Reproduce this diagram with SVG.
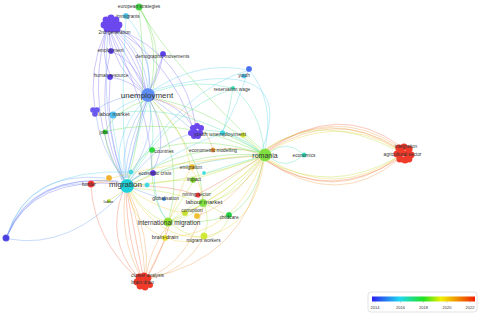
<svg xmlns="http://www.w3.org/2000/svg" width="480" height="314" viewBox="0 0 480 314">
<defs>
<style>
text{font-family:"Liberation Sans",Arial,sans-serif;fill:#333;text-anchor:middle;dominant-baseline:central}
.s{font-size:4.8px}.m{font-size:5.6px}.l{font-size:6.4px}.xl{font-size:8px}
#edges path{fill:none;stroke-width:0.75;stroke-opacity:0.5}
.e14{stroke:#7a6cf5}.e15{stroke:#6c9cf5}.e16{stroke:#5ed2f0}.e17{stroke:#55e0b4}.e18{stroke:#6edc50}.e19{stroke:#bde040}.e20{stroke:#f0d040}.e21{stroke:#f0a050}.e22{stroke:#f07050}
circle{stroke-width:0.4;stroke-opacity:0.5;stroke:#fff}
.cl circle{stroke:none}
</style>
<linearGradient id="leg" x1="0" x2="1" y1="0" y2="0">
<stop offset="0" stop-color="#2a20f0"/><stop offset="0.27" stop-color="#20d8f0"/><stop offset="0.5" stop-color="#20e020"/><stop offset="0.67" stop-color="#f0f000"/><stop offset="0.85" stop-color="#f08000"/><stop offset="1" stop-color="#f02000"/>
</linearGradient>
</defs>
<rect width="480" height="314" fill="#fff"/>
<g id="edges">
<path class="e14" d="M110 28 Q138 45 146 90"/>
<path class="e14" d="M112 28 Q128 60 145 90"/>
<path class="e14" d="M108 30 Q115 70 144 92"/>
<path class="e14" d="M114 27 Q150 40 150 88"/>
<path class="e14" d="M111 28 Q133 52 146 90"/>
<path class="e15" d="M113 28 Q143 48 148 89"/>
<path class="e14" d="M109 29 Q120 65 144 91"/>
<path class="e14" d="M115 28 Q185 55 196 127"/>
<path class="e14" d="M113 28 Q170 60 193 128"/>
<path class="e14" d="M110 30 Q150 110 152 170"/>
<path class="e14" d="M106 30 Q85 110 122 180"/>
<path class="e15" d="M108 30 Q100 120 124 180"/>
<path class="e14" d="M106 30 Q88 70 95 109"/>
<path class="e14" d="M110 32 Q108 42 111 48"/>
<path class="e14" d="M107 30 Q100 55 110 74"/>
<path class="e15" d="M7 236 Q30 172 120 182"/>
<path class="e14" d="M7 236 Q32 176 122 184"/>
<path class="e15" d="M7 236 Q28 170 105 178"/>
<path class="e15" d="M7 236 Q34 180 90 184"/>
<path class="e16" d="M7 236 Q26 168 130 172"/>
<path class="e14" d="M7 236 Q31 174 118 181"/>
<path class="e15" d="M9 239 Q70 250 125 190"/>
<path class="e14" d="M111 51 Q135 60 145 90"/>
<path class="e14" d="M110 53 Q95 120 123 180"/>
<path class="e14" d="M110 77 Q130 80 143 93"/>
<path class="e14" d="M110 79 Q105 130 124 180"/>
<path class="e14" d="M163 54 Q160 75 150 89"/>
<path class="e14" d="M163 56 Q140 110 127 178"/>
<path class="e16" d="M126 16 Q150 40 149 88"/>
<path class="e16" d="M126 18 Q120 100 126 178"/>
<path class="e18" d="M139 7 Q160 40 151 88"/>
<path class="e18" d="M139 7 Q165 45 153 89"/>
<path class="e18" d="M139 8 Q150 110 128 178"/>
<path class="e18" d="M139 8 Q175 70 262 150"/>
<path class="e16" d="M153 90 Q300 50 262 150"/>
<path class="e16" d="M153 90 Q200 60 248 70"/>
<path class="e17" d="M153 92 Q195 78 232 88"/>
<path class="e16" d="M248 70 Q240 100 222 132"/>
<path class="e17" d="M233 88 Q230 110 223 132"/>
<path class="e17" d="M233 88 Q260 110 264 150"/>
<path class="e17" d="M232 89 Q170 110 130 180"/>
<path class="e16" d="M249 70 Q275 100 265 150"/>
<path class="e16" d="M249 70 Q180 90 128 180"/>
<path class="e15" d="M148 95 Q115 95 96 110"/>
<path class="e16" d="M148 95 Q120 105 112 114"/>
<path class="e15" d="M146 101 Q120 140 124 178"/>
<path class="e16" d="M148 101 Q135 145 126 178"/>
<path class="e15" d="M150 101 Q155 140 128 178"/>
<path class="e16" d="M144 100 Q110 140 122 179"/>
<path class="e15" d="M147 101 Q128 142 125 178"/>
<path class="e17" d="M148 100 Q155 125 152 148"/>
<path class="e14" d="M150 100 Q170 140 153 170"/>
<path class="e14" d="M152 98 Q180 105 194 128"/>
<path class="e15" d="M152 98 Q175 115 193 130"/>
<path class="e18" d="M154 98 Q215 110 262 153"/>
<path class="e18" d="M150 101 Q185 160 169 218"/>
<path class="e18" d="M152 100 Q200 150 203 200"/>
<path class="e18" d="M147 100 Q115 110 106 130"/>
<path class="e20" d="M152 100 Q185 130 190 165"/>
<path class="e21" d="M152 98 Q200 110 213 149"/>
<path class="e15" d="M125 180 Q100 150 96 115"/>
<path class="e16" d="M125 180 Q115 145 112 117"/>
<path class="e18" d="M125 180 Q108 160 105 134"/>
<path class="e18" d="M128 180 Q135 160 151 150"/>
<path class="e14" d="M130 182 Q140 172 152 173"/>
<path class="e18" d="M132 184 Q195 150 260 155"/>
<path class="e19" d="M132 186 Q200 180 260 157"/>
<path class="e18" d="M130 182 Q190 140 261 152"/>
<path class="e15" d="M130 180 Q160 140 195 133"/>
<path class="e16" d="M130 182 Q185 145 221 134"/>
<path class="e20" d="M132 184 Q165 168 189 167"/>
<path class="e19" d="M132 186 Q165 180 191 180"/>
<path class="e15" d="M132 188 Q150 195 163 199"/>
<path class="e19" d="M132 188 Q170 190 201 203"/>
<path class="e19" d="M130 190 Q145 215 166 222"/>
<path class="e20" d="M128 192 Q135 225 163 237"/>
<path class="e20" d="M130 192 Q160 240 202 237"/>
<path class="e20" d="M131 190 Q160 210 184 213"/>
<path class="e22" d="M132 186 Q170 185 197 195"/>
<path class="e21" d="M120 184 Q105 180 93 184"/>
<path class="e19" d="M124 190 Q115 197 110 200"/>
<path class="e21" d="M125 192 Q120 240 140 275"/>
<path class="e22" d="M127 192 Q135 235 143 276"/>
<path class="e21" d="M129 192 Q150 235 146 276"/>
<path class="e22" d="M123 191 Q105 240 138 277"/>
<path class="e22" d="M126 192 Q127 238 141 276"/>
<path class="e21" d="M128 192 Q143 236 145 276"/>
<path class="e22" d="M91 187 Q95 240 137 278"/>
<path class="e21" d="M268 151 Q335 108 398 148"/>
<path class="e20" d="M268 152 Q335 112 397 149"/>
<path class="e21" d="M266 150 Q335 104 399 147"/>
<path class="e19" d="M264 150 Q320 110 396 150"/>
<path class="e22" d="M267 151 Q338 100 400 146"/>
<path class="e21" d="M265 150 Q330 106 398 149"/>
<path class="e20" d="M268 159 Q335 200 398 157"/>
<path class="e21" d="M267 160 Q335 205 397 158"/>
<path class="e19" d="M266 160 Q330 195 396 158"/>
<path class="e21" d="M267 161 Q338 210 399 159"/>
<path class="e22" d="M266 161 Q332 202 398 159"/>
<path class="e17" d="M270 152 Q287 140 302 153"/>
<path class="e17" d="M270 158 Q287 170 302 156"/>
<path class="e17" d="M260 152 Q235 130 205 130"/>
<path class="e18" d="M260 152 Q240 140 224 134"/>
<path class="e19" d="M260 151 Q250 140 244 136"/>
<path class="e21" d="M259 154 Q235 145 215 150"/>
<path class="e20" d="M259 156 Q225 155 193 166"/>
<path class="e19" d="M259 158 Q225 170 195 179"/>
<path class="e17" d="M259 157 Q230 165 206 173"/>
<path class="e22" d="M260 158 Q225 180 200 193"/>
<path class="e19" d="M261 159 Q235 185 207 201"/>
<path class="e19" d="M262 160 Q240 195 206 203"/>
<path class="e18" d="M263 161 Q255 200 231 214"/>
<path class="e19" d="M259 158 Q215 190 172 220"/>
<path class="e19" d="M260 160 Q225 205 173 221"/>
<path class="e20" d="M264 161 Q255 225 207 236"/>
<path class="e20" d="M262 161 Q235 235 168 237"/>
<path class="e20" d="M260 159 Q225 195 187 212"/>
<path class="e21" d="M261 160 Q230 205 199 215"/>
<path class="e18" d="M259 153 Q205 135 154 149"/>
<path class="e16" d="M259 155 Q205 160 155 173"/>
<path class="e18" d="M259 152 Q180 115 107 131"/>
<path class="e17" d="M259 151 Q180 100 114 114"/>
<path class="e21" d="M263 162 Q245 260 148 278"/>
<path class="e20" d="M259 156 Q170 160 93 183"/>
<path class="e19" d="M207 204 Q220 212 227 215"/>
<path class="e19" d="M205 206 Q210 225 204 234"/>
<path class="e19" d="M202 205 Q185 215 172 220"/>
<path class="e19" d="M201 205 Q192 210 187 212"/>
<path class="e20" d="M203 200 Q200 180 191 169"/>
<path class="e21" d="M203 207 Q190 260 148 278"/>
<path class="e20" d="M168 226 Q165 230 165 235"/>
<path class="e19" d="M171 224 Q190 238 202 237"/>
<path class="e21" d="M167 226 Q150 250 146 276"/>
<path class="e22" d="M169 226 Q160 255 148 276"/>
<path class="e18" d="M172 221 Q200 225 227 216"/>
<path class="e20" d="M170 218 Q180 190 190 169"/>
<path class="e19" d="M170 218 Q185 195 193 182"/>
<path class="e21" d="M165 240 Q155 260 147 277"/>
<path class="e21" d="M203 239 Q185 270 150 279"/>
<path class="e20" d="M167 238 Q185 245 202 239"/>
<path class="e19" d="M229 217 Q222 235 206 238"/>
<path class="e18" d="M152 152 Q150 200 166 219"/>
<path class="e16" d="M154 175 Q155 205 166 219"/>
</g>
<g id="n-european-strategies"><circle cx="139" cy="7" r="3.5" fill="#40d040"/><text class="s" x="139" y="6">european strategies</text></g>
<g id="n-immigrants"><circle cx="126" cy="16" r="3" fill="#50c8f0"/><text class="s" x="128" y="16">immigrants</text></g>
<g id="n-2nd-generation" class="cl">
<circle cx="106" cy="20" r="3.4" fill="#6a48ee"/><circle cx="111" cy="18" r="3.4" fill="#6a48ee"/><circle cx="116" cy="20" r="3.4" fill="#6a48ee"/>
<circle cx="104" cy="25" r="3.4" fill="#6a48ee"/><circle cx="109" cy="24" r="3.4" fill="#6a48ee"/><circle cx="114" cy="24" r="3.4" fill="#6a48ee"/><circle cx="119" cy="25" r="3.4" fill="#6a48ee"/>
<circle cx="107" cy="29" r="3.4" fill="#6a48ee"/><circle cx="112" cy="29" r="3.4" fill="#6a48ee"/><circle cx="117" cy="29" r="3.4" fill="#6a48ee"/>
<text class="s" x="114.5" y="32">2nd generation</text></g>
<g id="n-employment"><circle cx="111" cy="51" r="3" fill="#5a3de8"/><text class="s" x="110.5" y="50">employment</text></g>
<g id="n-demographic-movements"><circle cx="163" cy="54" r="3" fill="#5a40ea"/><text class="s" x="162.5" y="56">demographic movements</text></g>
<g id="n-human-resource"><circle cx="110" cy="77" r="3" fill="#5a3de8"/><text class="s" x="111" y="75">human resource</text></g>
<g id="n-youth"><circle cx="249" cy="69" r="3" fill="#4a70f0"/><circle cx="244" cy="76" r="2.5" fill="#50c8f0"/><text class="s" x="244" y="75.5">youth</text></g>
<g id="n-reservation-wage"><circle cx="233" cy="88" r="2" fill="#30dcb0"/><text class="s" x="232" y="89">reservation wage</text></g>
<g id="n-unemployment"><circle cx="148" cy="95" r="7" fill="#5f8ef2"/><text class="xl" x="147" y="95">unemployment</text></g>
<g id="n-labor-market" class="cl"><circle cx="93" cy="110" r="2.8" fill="#6a5af0"/><circle cx="97" cy="110" r="2.8" fill="#6a5af0"/><circle cx="95" cy="114" r="2.8" fill="#6a5af0"/><circle cx="113" cy="115" r="3.5" fill="#50c0f0"/><text class="m" x="114" y="114">labor market</text></g>
<g id="n-jobs"><circle cx="105" cy="132" r="2.5" fill="#20d020"/><text class="s" x="104" y="132">jobs</text></g>
<g id="n-youth-unemployment" class="cl">
<circle cx="193" cy="128" r="3" fill="#6a48ee"/><circle cx="197" cy="126" r="3" fill="#6a48ee"/><circle cx="201" cy="128" r="3" fill="#6a48ee"/>
<circle cx="191" cy="133" r="3" fill="#6a48ee"/><circle cx="195" cy="132" r="3" fill="#6a48ee"/><circle cx="200" cy="133" r="3" fill="#6a48ee"/>
<circle cx="194" cy="136" r="3" fill="#6a48ee"/><circle cx="198" cy="136" r="3" fill="#6a48ee"/>
<circle cx="222.5" cy="133" r="2.6" fill="#40d8e8"/><circle cx="243" cy="135" r="2.6" fill="#d8e830"/>
<text class="m" x="220" y="134">youth unemployment</text></g>
<g id="n-romania"><circle cx="265" cy="155" r="6.5" fill="#80e040"/><text class="l" x="265" y="155" style="font-size:7px">romania</text></g>
<g id="n-economics"><circle cx="304" cy="155" r="2.5" fill="#30e0c0"/><text class="s" x="304" y="155">economics</text></g>
<g id="n-integration" class="cl">
<circle cx="399" cy="148" r="3.6" fill="#f03a2a"/><circle cx="404" cy="147" r="3.6" fill="#f03a2a"/><circle cx="409" cy="149" r="3.6" fill="#f03a2a"/>
<circle cx="397" cy="154" r="3.6" fill="#f03a2a"/><circle cx="402" cy="153" r="3.6" fill="#f03a2a"/><circle cx="407" cy="154" r="3.6" fill="#f03a2a"/><circle cx="411" cy="155" r="3.4" fill="#f03a2a"/>
<circle cx="400" cy="159" r="3.6" fill="#f03a2a"/><circle cx="405" cy="160" r="3.6" fill="#f03a2a"/><circle cx="409" cy="159" r="3.4" fill="#f03a2a"/>
<text class="s" x="406" y="146">integration</text><text class="s" x="402.5" y="154">agricultural sector</text></g>
<g id="n-countries"><circle cx="152" cy="150" r="3" fill="#30d840"/><text class="s" x="164" y="151">countries</text></g>
<g id="n-econometric-modelling"><circle cx="213" cy="150" r="2.5" fill="#f09030"/><text class="s" x="213" y="150">econometric modelling</text></g>
<g id="n-emigration"><circle cx="192" cy="167" r="3" fill="#f0c030"/><circle cx="204" cy="173" r="2" fill="#40e0e0"/><text class="s" x="191" y="167">emigration</text></g>
<g id="n-impact"><circle cx="193" cy="180" r="3" fill="#80d830"/><text class="s" x="194" y="179">impact</text></g>
<g id="n-economic-crisis"><circle cx="153" cy="173" r="3" fill="#5a30e0"/><text class="s" x="155" y="173">economic crisis</text></g>
<g id="n-migration"><circle cx="109" cy="178" r="3" fill="#f0b030"/><circle cx="131" cy="172" r="2.5" fill="#40d8e0"/><circle cx="147" cy="185" r="2.5" fill="#40d8e0"/><circle cx="127" cy="186" r="7" fill="#20d0d8"/><text class="xl" x="125.5" y="184">migration</text></g>
<g id="n-border"><circle cx="91" cy="184" r="3.5" fill="#f03030"/><text class="s" x="89" y="184">border</text></g>
<g id="n-labor"><circle cx="109" cy="201" r="2" fill="#b8e030"/><text class="s" x="108.5" y="201" style="font-size:4.4px">labor</text></g>
<g id="n-globalisation"><circle cx="164" cy="199" r="2" fill="#3090e8"/><text class="s" x="165.5" y="198">globalisation</text></g>
<g id="n-mining-sector"><circle cx="198" cy="195" r="2.6" fill="#f03030"/><text class="s" x="196.5" y="194">mining sector</text></g>
<g id="n-labour-market"><circle cx="203" cy="203" r="4" fill="#80e040"/><text class="l" x="204" y="202" style="font-size:6px">labour market</text></g>
<g id="n-corruption"><circle cx="185" cy="213" r="3" fill="#c8e030"/><circle cx="197" cy="216" r="3" fill="#f0c030"/><text class="s" x="192" y="210.5">corruption</text></g>
<g id="n-childcare"><circle cx="229" cy="215" r="3" fill="#20d040"/><text class="s" x="229" y="217.5">childcare</text></g>
<g id="n-international-migration"><circle cx="168" cy="222" r="4.5" fill="#90e030"/><text class="l" x="169" y="222">international migration</text></g>
<g id="n-brain-drain"><circle cx="165" cy="238" r="3" fill="#e8e030"/><text class="m" x="165" y="237">brain-drain</text></g>
<g id="n-migrant-workers"><circle cx="204" cy="236" r="3.5" fill="#d0e830"/><text class="s" x="203.5" y="240.5">migrant workers</text></g>
<g id="n-cluster-analysis" class="cl">
<circle cx="139" cy="277" r="3.4" fill="#f03a2a"/><circle cx="144" cy="276" r="3.4" fill="#f03a2a"/><circle cx="148" cy="278" r="3.4" fill="#f03a2a"/>
<circle cx="137" cy="282" r="3.4" fill="#f03a2a"/><circle cx="142" cy="281" r="3.4" fill="#f03a2a"/><circle cx="147" cy="283" r="3.4" fill="#f03a2a"/>
<circle cx="140" cy="286" r="3.4" fill="#f03a2a"/><circle cx="145" cy="287" r="3.4" fill="#f03a2a"/><circle cx="150" cy="285" r="3" fill="#f03a2a"/>
<text class="s" x="147.5" y="275">cluster analysis</text><text class="s" x="142.5" y="282">brain drain</text></g>
<g id="n-left"><circle cx="6" cy="238" r="3.5" fill="#4a40e0"/></g>
<g id="legend">
<rect x="368" y="292" width="109" height="20" rx="3" fill="#fff" stroke="#d0d0d0" stroke-width="0.6"/>
<rect x="372" y="296.5" width="103" height="5" fill="url(#leg)"/>
<g stroke="#999" stroke-width="0.4"><line x1="375" y1="301.5" x2="375" y2="303"/><line x1="400.5" y1="301.5" x2="400.5" y2="303"/><line x1="423.5" y1="301.5" x2="423.5" y2="303"/><line x1="447" y1="301.5" x2="447" y2="303"/><line x1="470" y1="301.5" x2="470" y2="303"/></g>
<g style="font-size:4px;fill:#666"><text x="375" y="307">2014</text><text x="400.5" y="307">2016</text><text x="423.5" y="307">2018</text><text x="447" y="307">2020</text><text x="470" y="307">2022</text></g>
</g>
</svg>
